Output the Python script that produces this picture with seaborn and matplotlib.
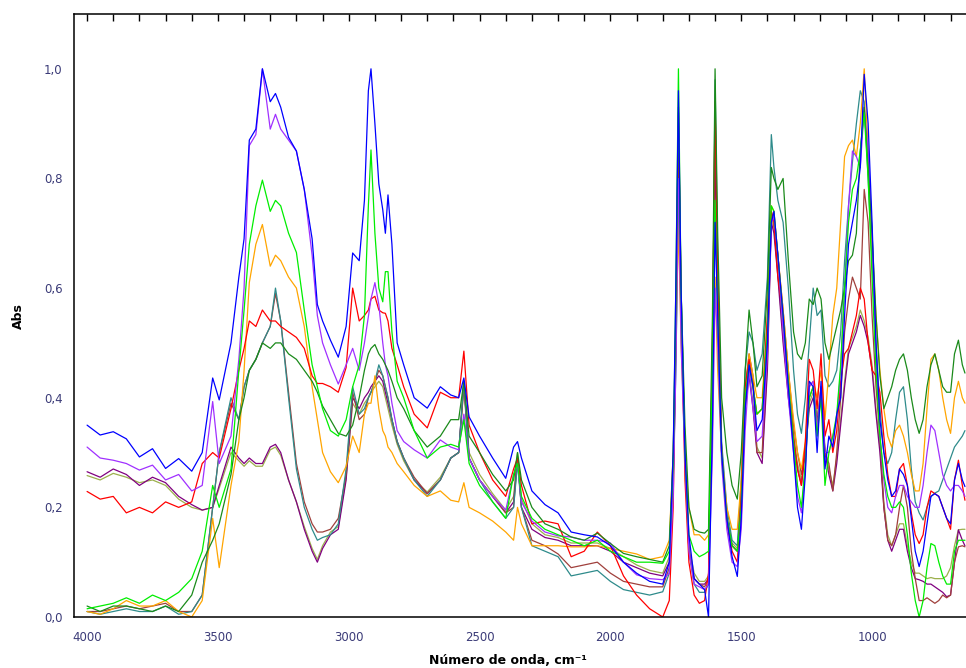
import matplotlib
matplotlib.use("Agg")
import matplotlib.pyplot as plt
import seaborn as sns
import pandas as pd
from matplotlib.ticker import MultipleLocator, FuncFormatter, NullFormatter

sns.set_style("white")
plt.rcParams["font.family"] = ["DejaVu Sans"]

# ---------------- data ----------------
wavenumber = [
    4000, 3950, 3900, 3850, 3800, 3750, 3700, 3650, 3600,
    3560, 3520, 3495, 3450, 3420, 3400, 3380, 3355, 3330, 3300,
    3280, 3260, 3230, 3200, 3170, 3140, 3120, 3100, 3070, 3040,
    3010, 2985, 2960, 2940, 2925, 2915, 2900, 2885, 2870, 2860,
    2850, 2835, 2815, 2790, 2750, 2700, 2650, 2610, 2580, 2560,
    2540, 2500, 2450, 2400, 2370, 2355, 2340, 2300, 2250, 2200,
    2150, 2100, 2050, 2000, 1950, 1900, 1850, 1800, 1775, 1760,
    1750, 1740, 1730, 1715, 1700, 1680, 1660, 1640, 1625, 1610,
    1600, 1590, 1575, 1555, 1535, 1515, 1500, 1485, 1470, 1455,
    1440, 1420, 1400, 1385, 1375, 1360, 1340, 1320, 1300, 1285,
    1270, 1255, 1240, 1225, 1210, 1195, 1180, 1165, 1150, 1135,
    1120, 1105, 1090, 1075, 1060, 1045, 1030, 1015, 1000, 985,
    970, 955, 940, 925, 910, 895, 880, 865, 850, 835,
    820, 805, 790, 775, 760, 745, 730, 715, 700, 685,
    670, 655, 645]

blue = [
    0.350, 0.332, 0.338, 0.325, 0.292, 0.307, 0.271, 0.289, 0.266,
    0.300, 0.436, 0.396, 0.500, 0.620, 0.690, 0.870, 0.890, 1.000, 0.940,
    0.955, 0.930, 0.875, 0.850, 0.780, 0.690, 0.570, 0.540, 0.505, 0.474,
    0.530, 0.664, 0.650, 0.760, 0.960, 1.000, 0.900, 0.790, 0.743, 0.700,
    0.770, 0.680, 0.500, 0.460, 0.400, 0.381, 0.420, 0.405, 0.400, 0.436,
    0.365, 0.330, 0.290, 0.253, 0.310, 0.320, 0.290, 0.230, 0.205, 0.190,
    0.155, 0.150, 0.146, 0.130, 0.100, 0.080, 0.065, 0.060, 0.100, 0.300,
    0.600, 0.960, 0.600, 0.300, 0.150, 0.070, 0.060, 0.050, 0.000, 0.350,
    0.720, 0.550, 0.300, 0.180, 0.110, 0.074, 0.180, 0.380, 0.460, 0.420,
    0.340, 0.360, 0.500, 0.720, 0.740, 0.660, 0.550, 0.420, 0.300, 0.200,
    0.160, 0.260, 0.430, 0.420, 0.300, 0.430, 0.270, 0.330, 0.310, 0.370,
    0.400, 0.550, 0.680, 0.720, 0.760, 0.820, 0.990, 0.900, 0.720, 0.500,
    0.360, 0.300, 0.250, 0.220, 0.230, 0.270, 0.260, 0.240, 0.180, 0.120,
    0.092, 0.120, 0.170, 0.220, 0.225, 0.220, 0.200, 0.180, 0.170, 0.250,
    0.280, 0.250, 0.238]

violet = [
    0.310, 0.290, 0.286, 0.280, 0.268, 0.277, 0.250, 0.260, 0.230,
    0.240, 0.393, 0.280, 0.330, 0.470, 0.600, 0.860, 0.880, 1.000, 0.890,
    0.917, 0.890, 0.870, 0.850, 0.780, 0.660, 0.550, 0.500, 0.460, 0.425,
    0.460, 0.490, 0.450, 0.500, 0.548, 0.580, 0.610, 0.570, 0.500, 0.460,
    0.440, 0.390, 0.340, 0.320, 0.305, 0.290, 0.323, 0.310, 0.305, 0.370,
    0.290, 0.250, 0.220, 0.195, 0.260, 0.280, 0.210, 0.175, 0.155, 0.148,
    0.146, 0.140, 0.140, 0.135, 0.100, 0.077, 0.070, 0.068, 0.080, 0.220,
    0.450, 0.800, 0.500, 0.280, 0.120, 0.060, 0.055, 0.050, 0.060, 0.300,
    0.600, 0.500, 0.280, 0.160, 0.100, 0.092, 0.160, 0.340, 0.450, 0.380,
    0.320, 0.330, 0.480, 0.720, 0.730, 0.660, 0.520, 0.400, 0.300, 0.220,
    0.190, 0.270, 0.420, 0.430, 0.340, 0.420, 0.300, 0.300, 0.330, 0.360,
    0.450, 0.600, 0.750, 0.850, 0.840, 0.820, 0.930, 0.850, 0.700, 0.480,
    0.330, 0.250, 0.200, 0.190, 0.220, 0.240, 0.240, 0.220, 0.210, 0.200,
    0.200, 0.240, 0.300, 0.350, 0.340, 0.300, 0.260, 0.240, 0.230, 0.240,
    0.240, 0.230, 0.220]

lime = [
    0.015, 0.020, 0.025, 0.035, 0.025, 0.040, 0.030, 0.045, 0.070,
    0.120, 0.240, 0.200, 0.270, 0.450, 0.560, 0.680, 0.750, 0.797, 0.740,
    0.760, 0.750, 0.700, 0.665, 0.560, 0.460, 0.420, 0.380, 0.340, 0.330,
    0.360, 0.420, 0.460, 0.550, 0.750, 0.852, 0.700, 0.600, 0.575, 0.630,
    0.630, 0.520, 0.430, 0.400, 0.340, 0.290, 0.310, 0.315, 0.310, 0.360,
    0.280, 0.240, 0.210, 0.180, 0.260, 0.280, 0.220, 0.180, 0.160, 0.150,
    0.140, 0.130, 0.140, 0.120, 0.110, 0.100, 0.100, 0.098, 0.120, 0.280,
    0.600, 1.000, 0.600, 0.300, 0.150, 0.120, 0.110, 0.115, 0.120, 0.450,
    0.760, 0.550, 0.300, 0.180, 0.130, 0.120, 0.200, 0.400, 0.460, 0.420,
    0.370, 0.380, 0.520, 0.750, 0.740, 0.660, 0.550, 0.430, 0.320, 0.240,
    0.200, 0.280, 0.400, 0.420, 0.330, 0.400, 0.240, 0.300, 0.330, 0.370,
    0.460, 0.600, 0.720, 0.780, 0.800, 0.850, 0.920, 0.800, 0.620, 0.450,
    0.330, 0.260, 0.220, 0.200, 0.200, 0.210, 0.200, 0.150, 0.080, 0.030,
    0.000, 0.030, 0.090, 0.134, 0.130, 0.100, 0.075, 0.060, 0.060, 0.120,
    0.140, 0.140, 0.140]

orange = [
    0.010, 0.005, 0.015, 0.030, 0.020, 0.020, 0.030, 0.010, 0.000,
    0.030, 0.180, 0.090, 0.240, 0.320, 0.450, 0.610, 0.680, 0.716, 0.640,
    0.660, 0.650, 0.620, 0.600, 0.530, 0.420, 0.360, 0.300, 0.265, 0.245,
    0.275, 0.330, 0.300, 0.370, 0.390, 0.390, 0.440, 0.380, 0.340, 0.330,
    0.310, 0.300, 0.280, 0.265, 0.240, 0.220, 0.230, 0.213, 0.210, 0.245,
    0.200, 0.190, 0.175, 0.155, 0.140, 0.200, 0.170, 0.130, 0.130, 0.130,
    0.128, 0.128, 0.130, 0.125, 0.120, 0.115, 0.105, 0.110, 0.140, 0.300,
    0.500, 0.720, 0.500, 0.300, 0.200, 0.150, 0.150, 0.140, 0.150, 0.350,
    0.620, 0.450, 0.300, 0.200, 0.160, 0.160, 0.250, 0.400, 0.480, 0.440,
    0.400, 0.400, 0.540, 0.750, 0.740, 0.660, 0.560, 0.450, 0.360, 0.300,
    0.270, 0.320, 0.420, 0.430, 0.400, 0.450, 0.360, 0.450, 0.550, 0.600,
    0.720, 0.840, 0.860, 0.870, 0.840, 0.900, 1.000, 0.850, 0.680, 0.550,
    0.450, 0.380, 0.330, 0.310, 0.340, 0.350, 0.330, 0.300, 0.260, 0.230,
    0.230, 0.280, 0.380, 0.470, 0.480, 0.450, 0.400, 0.360, 0.335, 0.400,
    0.430, 0.400, 0.390]

red = [
    0.229, 0.215, 0.220, 0.190, 0.200, 0.190, 0.210, 0.200, 0.210,
    0.280, 0.300, 0.290, 0.380, 0.450, 0.490, 0.540, 0.530, 0.560, 0.540,
    0.540, 0.530, 0.520, 0.510, 0.490, 0.440, 0.426, 0.426, 0.420, 0.410,
    0.455, 0.600, 0.540, 0.550, 0.560, 0.580, 0.585, 0.560, 0.555, 0.554,
    0.540, 0.490, 0.460, 0.420, 0.370, 0.345, 0.410, 0.400, 0.400, 0.485,
    0.350, 0.300, 0.250, 0.220, 0.270, 0.290, 0.240, 0.170, 0.175, 0.170,
    0.110, 0.120, 0.155, 0.130, 0.075, 0.040, 0.015, 0.000, 0.030, 0.200,
    0.500, 0.920, 0.580, 0.250, 0.100, 0.040, 0.025, 0.030, 0.080, 0.500,
    0.940, 0.620, 0.300, 0.170, 0.120, 0.100, 0.220, 0.420, 0.470, 0.420,
    0.370, 0.380, 0.550, 0.740, 0.720, 0.620, 0.550, 0.420, 0.330, 0.270,
    0.240, 0.320, 0.470, 0.450, 0.380, 0.480, 0.330, 0.360, 0.300, 0.340,
    0.430, 0.480, 0.490, 0.520, 0.550, 0.600, 0.580, 0.500, 0.450, 0.440,
    0.410, 0.330, 0.260, 0.220, 0.220, 0.270, 0.280, 0.240, 0.190, 0.150,
    0.134, 0.150, 0.200, 0.230, 0.225, 0.220, 0.200, 0.180, 0.160, 0.250,
    0.286, 0.240, 0.213]

teal = [
    0.010, 0.005, 0.010, 0.015, 0.010, 0.010, 0.020, 0.005, 0.010,
    0.040, 0.200, 0.300, 0.400, 0.360, 0.420, 0.450, 0.470, 0.500, 0.530,
    0.600, 0.540, 0.400, 0.270, 0.200, 0.160, 0.140, 0.145, 0.150, 0.170,
    0.270, 0.420, 0.370, 0.380, 0.400, 0.410, 0.430, 0.460, 0.440, 0.420,
    0.400, 0.360, 0.320, 0.290, 0.250, 0.220, 0.250, 0.290, 0.300, 0.430,
    0.290, 0.250, 0.210, 0.180, 0.200, 0.280, 0.200, 0.130, 0.120, 0.110,
    0.075, 0.080, 0.085, 0.065, 0.050, 0.045, 0.040, 0.046, 0.080, 0.250,
    0.450, 0.750, 0.550, 0.300, 0.120, 0.060, 0.045, 0.045, 0.060, 0.450,
    0.980, 0.650, 0.320, 0.200, 0.140, 0.130, 0.250, 0.450, 0.520, 0.500,
    0.450, 0.480, 0.620, 0.880, 0.820, 0.760, 0.720, 0.600, 0.450, 0.370,
    0.335, 0.400, 0.500, 0.600, 0.550, 0.560, 0.440, 0.420, 0.430, 0.450,
    0.520, 0.650, 0.750, 0.830, 0.900, 0.960, 0.940, 0.800, 0.650, 0.500,
    0.380, 0.300, 0.280, 0.300, 0.360, 0.410, 0.420, 0.360, 0.270, 0.210,
    0.190, 0.177, 0.200, 0.220, 0.226, 0.230, 0.250, 0.270, 0.290, 0.310,
    0.320, 0.330, 0.340]

dark_green = [
    0.020, 0.010, 0.020, 0.020, 0.015, 0.010, 0.020, 0.010, 0.040,
    0.100, 0.140, 0.170, 0.260, 0.360, 0.400, 0.450, 0.470, 0.500, 0.490,
    0.500, 0.500, 0.480, 0.470, 0.450, 0.430, 0.410, 0.385, 0.360, 0.335,
    0.330, 0.350, 0.400, 0.450, 0.480, 0.490, 0.497, 0.480, 0.470, 0.460,
    0.450, 0.430, 0.400, 0.380, 0.340, 0.310, 0.330, 0.360, 0.360, 0.430,
    0.330, 0.300, 0.260, 0.230, 0.250, 0.300, 0.250, 0.200, 0.170, 0.160,
    0.146, 0.140, 0.153, 0.134, 0.116, 0.110, 0.105, 0.100, 0.130, 0.300,
    0.550, 0.930, 0.600, 0.350, 0.200, 0.160, 0.155, 0.153, 0.160, 0.550,
    1.000, 0.700, 0.400, 0.300, 0.240, 0.215, 0.300, 0.450, 0.560, 0.500,
    0.420, 0.440, 0.600, 0.820, 0.800, 0.780, 0.800, 0.650, 0.520, 0.480,
    0.470, 0.500, 0.580, 0.570, 0.600, 0.580, 0.500, 0.470, 0.500, 0.530,
    0.560, 0.600, 0.650, 0.660, 0.700, 0.850, 0.930, 0.820, 0.700, 0.550,
    0.440, 0.380, 0.400, 0.420, 0.450, 0.470, 0.480, 0.450, 0.400, 0.360,
    0.335, 0.360, 0.420, 0.460, 0.480, 0.450, 0.420, 0.410, 0.410, 0.480,
    0.505, 0.460, 0.445]

brown = [
    0.010, 0.010, 0.015, 0.020, 0.015, 0.020, 0.025, 0.010, 0.010,
    0.040, 0.200, 0.300, 0.390, 0.360, 0.420, 0.450, 0.470, 0.500, 0.530,
    0.590, 0.540, 0.410, 0.280, 0.210, 0.170, 0.155, 0.155, 0.160, 0.180,
    0.260, 0.410, 0.360, 0.370, 0.400, 0.410, 0.430, 0.450, 0.440, 0.420,
    0.400, 0.360, 0.320, 0.290, 0.255, 0.225, 0.250, 0.290, 0.300, 0.420,
    0.290, 0.250, 0.220, 0.190, 0.200, 0.290, 0.200, 0.140, 0.130, 0.115,
    0.090, 0.095, 0.100, 0.080, 0.065, 0.060, 0.055, 0.055, 0.090, 0.250,
    0.500, 0.900, 0.600, 0.300, 0.120, 0.070, 0.060, 0.055, 0.070, 0.500,
    0.920, 0.620, 0.300, 0.180, 0.130, 0.120, 0.220, 0.420, 0.480, 0.440,
    0.300, 0.300, 0.500, 0.740, 0.720, 0.660, 0.560, 0.450, 0.350, 0.300,
    0.260, 0.300, 0.400, 0.420, 0.350, 0.420, 0.300, 0.280, 0.230, 0.300,
    0.400, 0.520, 0.580, 0.620, 0.600, 0.580, 0.780, 0.720, 0.550, 0.420,
    0.330, 0.200, 0.140, 0.130, 0.150, 0.200, 0.240, 0.200, 0.120, 0.070,
    0.030, 0.030, 0.035, 0.030, 0.025, 0.030, 0.040, 0.035, 0.040, 0.100,
    0.128, 0.130, 0.128]

dark_purple = [
    0.265, 0.255, 0.270, 0.260, 0.240, 0.255, 0.245, 0.220, 0.205,
    0.195, 0.200, 0.240, 0.310, 0.290, 0.280, 0.290, 0.280, 0.280, 0.310,
    0.315, 0.300, 0.250, 0.210, 0.160, 0.120, 0.100, 0.125, 0.150, 0.160,
    0.250, 0.400, 0.380, 0.400, 0.410, 0.420, 0.430, 0.440, 0.430, 0.410,
    0.390, 0.360, 0.320, 0.290, 0.250, 0.225, 0.250, 0.290, 0.300, 0.430,
    0.290, 0.250, 0.220, 0.190, 0.210, 0.290, 0.200, 0.160, 0.145, 0.140,
    0.130, 0.130, 0.130, 0.120, 0.100, 0.090, 0.080, 0.075, 0.100, 0.250,
    0.500, 0.820, 0.550, 0.300, 0.120, 0.070, 0.060, 0.060, 0.070, 0.450,
    0.850, 0.580, 0.300, 0.180, 0.130, 0.120, 0.200, 0.380, 0.440, 0.380,
    0.300, 0.280, 0.450, 0.720, 0.700, 0.620, 0.500, 0.400, 0.320, 0.270,
    0.240, 0.300, 0.380, 0.400, 0.360, 0.400, 0.300, 0.260, 0.230, 0.280,
    0.350, 0.420, 0.480, 0.500, 0.520, 0.550, 0.530, 0.500, 0.450, 0.370,
    0.300, 0.200, 0.140, 0.120, 0.140, 0.160, 0.160, 0.120, 0.090, 0.070,
    0.068, 0.065, 0.060, 0.060, 0.055, 0.050, 0.045, 0.037, 0.040, 0.100,
    0.159, 0.140, 0.130]

olive = [
    0.258, 0.250, 0.262, 0.255, 0.245, 0.250, 0.240, 0.215, 0.200,
    0.195, 0.200, 0.235, 0.300, 0.285, 0.275, 0.285, 0.275, 0.275, 0.305,
    0.310, 0.295, 0.250, 0.210, 0.165, 0.125, 0.105, 0.130, 0.155, 0.165,
    0.255, 0.390, 0.370, 0.390, 0.400, 0.410, 0.420, 0.430, 0.420, 0.400,
    0.380, 0.350, 0.315, 0.285, 0.250, 0.228, 0.255, 0.290, 0.300, 0.420,
    0.300, 0.260, 0.225, 0.195, 0.220, 0.300, 0.215, 0.170, 0.150, 0.145,
    0.135, 0.135, 0.135, 0.125, 0.110, 0.095, 0.085, 0.080, 0.110, 0.260,
    0.520, 0.780, 0.560, 0.310, 0.130, 0.080, 0.065, 0.065, 0.075, 0.450,
    0.880, 0.600, 0.310, 0.185, 0.135, 0.125, 0.210, 0.390, 0.450, 0.390,
    0.310, 0.290, 0.460, 0.730, 0.710, 0.630, 0.510, 0.410, 0.330, 0.280,
    0.250, 0.310, 0.390, 0.410, 0.370, 0.410, 0.310, 0.270, 0.240, 0.290,
    0.360, 0.430, 0.490, 0.510, 0.530, 0.560, 0.540, 0.510, 0.460, 0.380,
    0.310, 0.210, 0.150, 0.130, 0.150, 0.170, 0.170, 0.130, 0.100, 0.080,
    0.080, 0.075, 0.070, 0.072, 0.070, 0.070, 0.070, 0.075, 0.090, 0.130,
    0.159, 0.160, 0.160]

# draw order (first = bottom) and colours
series_names = ["olive", "dark purple", "brown", "teal", "orange",
                "red", "violet", "dark green", "lime", "blue"]
series_values = [olive, dark_purple, brown, teal, orange,
                 red, violet, dark_green, lime, blue]
series_colors = ["#9cb04c", "#800080", "#a0403c", "#2e8b8b", "#ffa500",
                 "#ff0000", "#a030ff", "#1a8a1a", "#00ee00", "#0000ff"]

y_ticks = [0.0, 0.2, 0.4, 0.6, 0.8, 1.0]
x_ticks = [4000, 3500, 3000, 2500, 2000, 1500, 1000]

for name, vals in zip(series_names, series_values):
    if len(vals) != len(wavenumber):
        raise ValueError(f"{name}: {len(vals)} values vs {len(wavenumber)}")

rows = []
for name, vals in zip(series_names, series_values):
    for w, v in zip(wavenumber, vals):
        rows.append((name, w, v))
df = pd.DataFrame(rows, columns=["sample", "wn", "abs"])

# ---------------- figure ----------------
W, H = 966, 668
fig = plt.figure(figsize=(W / 100, H / 100), dpi=100)
ax = fig.add_axes([74 / W, 1 - 617 / H, (W - 74) / W, (617 - 14) / H])

sns.lineplot(data=df, x="wn", y="abs", hue="sample", hue_order=series_names,
             palette=dict(zip(series_names, series_colors)),
             estimator=None, sort=False, units="sample", linewidth=0.9,
             legend=False, ax=ax)

ax.set_xlim(4050, 641)
ax.set_ylim(0, 1.1)

ax.set_xticks(x_ticks)
ax.set_xticklabels([str(t) for t in x_ticks])
ax.xaxis.set_minor_locator(MultipleLocator(100))
ax.set_yticks(y_ticks)
ax.yaxis.set_major_formatter(FuncFormatter(lambda v, _: f"{v:.1f}".replace(".", ",")))
ax.yaxis.set_minor_locator(MultipleLocator(0.05))

lab_col = "#3b3b78"
ax.tick_params(axis="both", which="major", direction="inout", length=12.5,
               width=1.0, color="black", labelsize=8.5, labelcolor=lab_col)
ax.tick_params(axis="x", which="major", pad=4)
ax.tick_params(axis="y", which="major", pad=2)
ax.tick_params(axis="x", which="minor", direction="inout", length=6, width=1.0)
ax.tick_params(axis="y", which="minor", direction="inout", length=8, width=1.0)

for side in ["right", "top"]:
    ax.spines[side].set_visible(False)
for side in ["left", "bottom"]:
    ax.spines[side].set_visible(True)
    ax.spines[side].set_color("black")
    ax.spines[side].set_linewidth(1.1)

sec = ax.secondary_xaxis("top")
sec.xaxis.set_major_locator(MultipleLocator(100))
sec.xaxis.set_major_formatter(NullFormatter())
sec.tick_params(direction="in", length=5, width=1.0, color="black")
sec.spines["top"].set_linewidth(1.1)
sec.spines["top"].set_color("black")

ax.set_xlabel("")
ax.set_ylabel("")
fig.text(508 / W, 1 - 660 / H, "Número de onda, cm⁻¹", ha="center", va="center",
         fontsize=9, fontweight="bold", color="black")
fig.text(18 / W, 1 - 316 / H, "Abs", ha="center", va="center", rotation=90,
         fontsize=9, fontweight="bold", color="black")

fig.savefig("out.png", dpi=100)
